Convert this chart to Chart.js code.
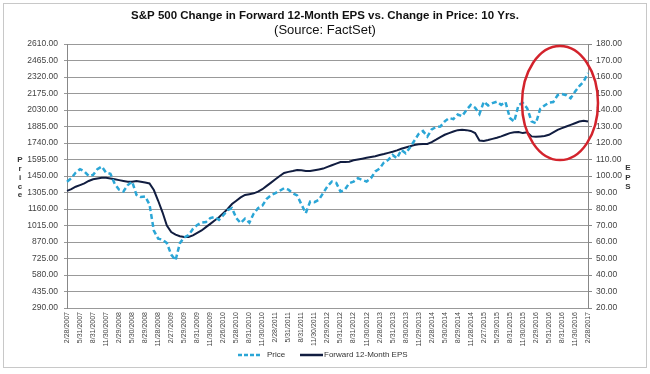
<!DOCTYPE html>
<html>
<head>
<meta charset="utf-8">
<script src="https://cdn.jsdelivr.net/npm/chart.js@4.4.1/dist/chart.umd.min.js"></script>
<style>
  html, body { margin: 0; padding: 0; background: #fff; }
</style>
</head>
<body>
<canvas id="chart" width="650" height="374"></canvas>
<script>
// quarterly tick labels (every 3rd month)
const quarterLabels = [
  '2/28/2007','5/31/2007','8/31/2007','11/30/2007','2/29/2008','5/30/2008','8/29/2008','11/28/2008',
  '2/27/2009','5/29/2009','8/31/2009','11/30/2009','2/26/2010','5/28/2010','8/31/2010','11/30/2010',
  '2/28/2011','5/31/2011','8/31/2011','11/30/2011','2/29/2012','5/31/2012','8/31/2012','11/30/2012',
  '2/28/2013','5/31/2013','8/30/2013','11/29/2013','2/28/2014','5/30/2014','8/29/2014','11/28/2014',
  '2/27/2015','5/29/2015','8/31/2015','11/30/2015','2/29/2016','5/31/2016','8/31/2016','11/30/2016',
  '2/28/2017'
];

// monthly S&P 500 price, Feb 2007 .. Feb 2017
const price = [
  1400, 1430, 1480, 1510, 1490, 1450, 1460, 1510, 1533, 1480, 1470,
  1380, 1330, 1315, 1370, 1400, 1285, 1265, 1270, 1200, 970, 900, 890,
  860, 760, 710, 860, 910, 930, 985, 1020, 1040, 1045, 1080, 1090,
  1065, 1105, 1150, 1167, 1080, 1036, 1075, 1040, 1120, 1167, 1190, 1250,
  1280, 1300, 1320, 1343, 1330, 1299, 1280, 1200, 1123, 1225, 1220, 1240,
  1300, 1360, 1401, 1390, 1313, 1330, 1387, 1400, 1431, 1415, 1401, 1430,
  1490, 1515, 1570, 1592, 1635, 1606, 1680, 1650, 1700, 1760, 1820, 1845,
  1796, 1860, 1880, 1885, 1930, 1960, 1950, 1990, 1975, 2030, 2074, 2050,
  1995, 2103, 2070, 2090, 2103, 2075, 2100, 1960, 1928, 2074, 2092, 2045,
  1930, 1914, 2040, 2070, 2095, 2100, 2160, 2170, 2160, 2133, 2190, 2240,
  2280, 2355
];

// monthly forward 12-month EPS, Feb 2007 .. Feb 2017
const eps = [
  91, 92, 93.5, 94.5, 95.5, 97, 98, 98.5, 99, 99, 98.5,
  98, 97.5, 97, 96.5, 96.5, 97, 96.5, 96, 95.5, 91.5, 85, 78,
  70, 66, 64.5, 63.5, 63, 63, 64, 65.5, 67, 69, 71, 73,
  75, 77.5, 80, 83, 85, 87, 88.5, 89, 89.5, 90.5, 92, 94,
  96, 98, 100, 101.8, 102.5, 103, 103.6, 103.5, 103, 103, 103.5, 104,
  104.5, 105.5, 106.5, 107.5, 108.5, 108.5, 108.7, 109.5, 110, 110.5, 111, 111.5,
  112, 112.7, 113.3, 114, 114.7, 115.5, 116.5, 117.3, 118, 118.8, 119.2, 119.4,
  119.4, 120.5, 122, 123.6, 125, 126, 127, 127.8, 128, 127.8, 127.3, 126,
  121.5, 121.2, 121.8, 122.5, 123.2, 124, 125, 126, 126.5, 126.7, 126, 126.5,
  124, 123.8, 124, 124.2, 125, 126.5, 128, 129, 130, 131, 132, 133,
  133.5, 133
];

// red circle annotation, in month index / price units
const circleMonths = [104.8, 122.3];
const circlePrice = [1590, 2592];

const monthLabels = price.map((_, i) => i % 3 === 0 ? quarterLabels[i / 3] : '');

const FONT = '"Liberation Sans", Arial, sans-serif';
const priceColor = '#2ba6d6';
const epsColor = '#111d40';

const decorations = {
  id: 'decorations',
  beforeDraw(chart) {
    const ctx = chart.ctx;
    ctx.save();
    ctx.fillStyle = '#fff';
    ctx.fillRect(0, 0, chart.width, chart.height);
    ctx.strokeStyle = '#c8c8c8';
    ctx.lineWidth = 1;
    ctx.strokeRect(3.5, 3.5, 643, 364);
    ctx.restore();
  },
  afterDraw(chart) {
    const ctx = chart.ctx;
    ctx.save();
    // title
    ctx.fillStyle = '#111';
    ctx.textAlign = 'center';
    ctx.textBaseline = 'middle';
    ctx.font = 'bold 11.5px ' + FONT;
    ctx.fillText('S&P 500 Change in Forward 12-Month EPS vs. Change in Price: 10 Yrs.', 325, 16);
    ctx.font = '13px ' + FONT;
    ctx.fillText('(Source: FactSet)', 325, 30);

    // stacked axis titles
    ctx.font = 'bold 8px ' + FONT;
    ctx.fillStyle = '#333';
    'Price'.split('').forEach((c, i) => ctx.fillText(c, 20, 160 + i * 8.8));
    'EPS'.split('').forEach((c, i) => ctx.fillText(c, 628, 168 + i * 9.5));

    // red ellipse
    const xs = chart.scales.x, ys = chart.scales.y;
    const x1 = xs.getPixelForValue(circleMonths[0]);
    const x2 = xs.getPixelForValue(circleMonths[1]);
    const y1 = ys.getPixelForValue(circlePrice[1]);
    const y2 = ys.getPixelForValue(circlePrice[0]);
    ctx.beginPath();
    ctx.ellipse((x1 + x2) / 2, (y1 + y2) / 2, (x2 - x1) / 2, (y2 - y1) / 2, 0, 0, Math.PI * 2);
    ctx.strokeStyle = '#d3232c';
    ctx.lineWidth = 2.5;
    ctx.stroke();

    // legend
    const ly = 355;
    ctx.lineWidth = 2.5;
    ctx.strokeStyle = priceColor;
    ctx.setLineDash([4, 2]);
    ctx.beginPath(); ctx.moveTo(238, ly); ctx.lineTo(262, ly); ctx.stroke();
    ctx.setLineDash([]);
    ctx.strokeStyle = epsColor;
    ctx.beginPath(); ctx.moveTo(300, ly); ctx.lineTo(323, ly); ctx.stroke();
    ctx.font = '8px ' + FONT;
    ctx.fillStyle = '#333';
    ctx.textAlign = 'left';
    ctx.fillText('Price', 267, ly);
    ctx.fillText('Forward 12-Month EPS', 324, ly);
    ctx.restore();
  }
};

new Chart(document.getElementById('chart'), {
  type: 'line',
  data: {
    labels: monthLabels,
    datasets: [
      {
        label: 'Price',
        data: price,
        yAxisID: 'y',
        borderColor: priceColor,
        borderWidth: 2.5,
        borderDash: [5, 3],
        pointRadius: 0,
        tension: 0,
        fill: false
      },
      {
        label: 'Forward 12-Month EPS',
        data: eps,
        yAxisID: 'y1',
        borderColor: epsColor,
        borderWidth: 2,
        pointRadius: 0,
        tension: 0,
        fill: false
      }
    ]
  },
  options: {
    responsive: false,
    animation: false,
    devicePixelRatio: 1,
    layout: { padding: { top: 44, bottom: 16, left: 0, right: 0 } },
    plugins: {
      legend: { display: false },
      title: { display: false },
      tooltip: { enabled: false }
    },
    scales: {
      x: {
        grid: { display: false, drawTicks: false },
        border: { display: false },
        afterFit: s => { s.height = 50; },
        ticks: {
          autoSkip: false,
          maxRotation: 90,
          minRotation: 90,
          padding: 4,
          color: '#444',
          font: { family: FONT, size: 7 },
          callback: (v, i) => monthLabels[i]
        }
      },
      y: {
        position: 'left',
        min: 290,
        max: 2610,
        afterFit: s => { s.width = 67; },
        afterBuildTicks: s => {
          s.ticks = [];
          for (let v = 290; v <= 2610; v += 145) s.ticks.push({ value: v });
        },
        grid: { color: '#999', lineWidth: 1, tickLength: 3 },
        border: { color: '#888' },
        ticks: {
          color: '#444',
          padding: 6,
          font: { family: FONT, size: 8.5 },
          callback: v => v.toFixed(2)
        }
      },
      y1: {
        position: 'right',
        min: 20,
        max: 180,
        afterFit: s => { s.width = 62; },
        afterBuildTicks: s => {
          s.ticks = [];
          for (let v = 20; v <= 180; v += 10) s.ticks.push({ value: v });
        },
        grid: { drawOnChartArea: false, color: '#888', tickLength: 4 },
        border: { color: '#888' },
        ticks: {
          color: '#444',
          padding: 4,
          font: { family: FONT, size: 8.5 },
          callback: v => v.toFixed(2)
        }
      }
    }
  },
  plugins: [decorations]
});
</script>
</body>
</html>
